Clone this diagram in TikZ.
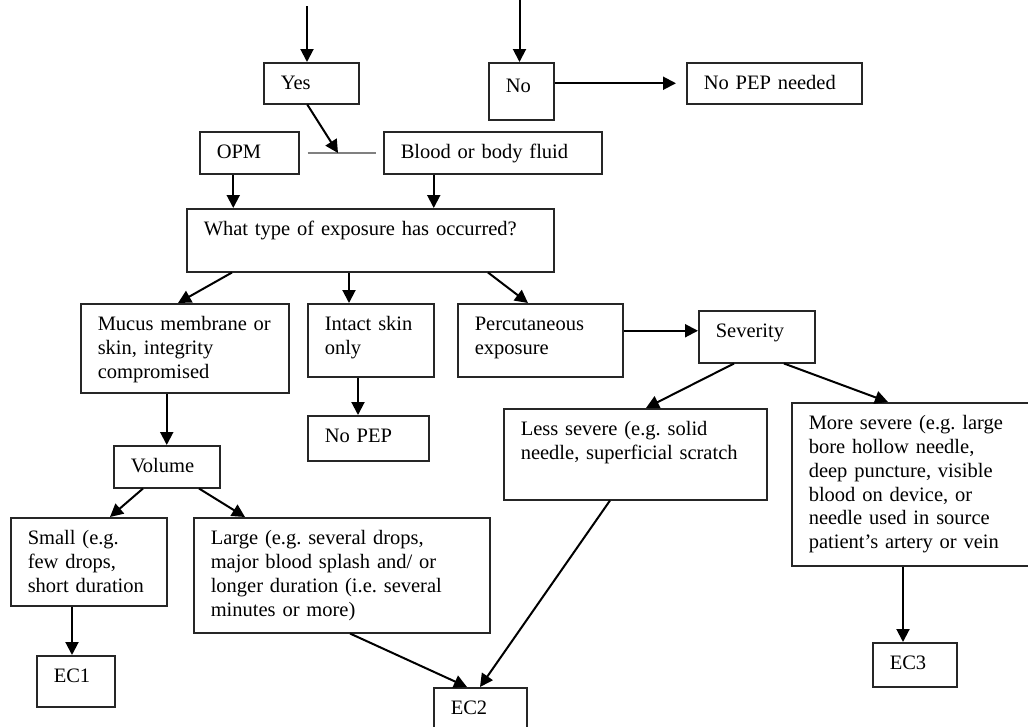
\documentclass[tikz,border=0pt]{standalone}
\usepackage{fontspec}
\setmainfont{Liberation Serif}
\frenchspacing
\usetikzlibrary{positioning, arrows.meta}

\begin{document}
\begin{tikzpicture}[
		x=1pt, y=-1pt,
		box/.style={draw=black!85, line width=1.5pt, anchor=north west, align=left,
			inner xsep=17pt, inner ysep=0pt, text height=27pt,
			font=\fontsize{20.5}{23.8}\selectfont},
		arrow/.style={-{Triangle[length=13pt, width=13pt]}, line width=2pt},
		link/.style={draw=black!50, line width=2pt},
		]
		\useasboundingbox (0,0) rectangle (1028,726);
		\clip (0,0) rectangle (1028,726);
		
		% Source answer (top)
		\node[box, text width=61pt, text depth=14pt] (yes) at (263,62) {Yes};
		\node[box, text width=31pt, text height=30pt, text depth=27pt] (no) at (488,62) {No};
		\node[box, text width=141pt, text depth=14pt] (nopepneeded) at (686,62) {No PEP needed};
		
		% Source material
		\node[box, text width=65pt, text depth=15pt] (opm) at (199,131) {OPM};
		\node[box, text width=184pt, text depth=15pt] (blood) at (383,131) {Blood or body fluid};
		
		% Type of exposure
		\node[box, text width=333pt, text depth=36pt] (exposure) at (186,208) {What type of exposure has occurred?};
		\node[box, text width=174pt, text depth=62pt] (mucus) at (80,303) {Mucus membrane or\\skin, integrity\\compromised};
		\node[box, text width=92pt, text depth=46pt] (intact) at (307,303) {Intact skin\\only};
		\node[box, text width=131pt, text depth=46pt] (percut) at (457,303) {Percutaneous\\exposure};
		\node[box, text width=82pt, text depth=25pt] (severity) at (698,310) {Severity};
		\node[box, text width=87pt, text depth=18pt] (nopep) at (307,415) {No PEP};
		
		% Volume and severity
		\node[box, text width=72pt, text depth=15pt] (volume) at (113,445) {Volume};
		\node[box, text width=229pt, text depth=64pt] (less) at (503,408) {Less severe (e.g. solid\\needle, superficial scratch};
		\node[box, text width=216pt, text depth=136pt] (more) at (791,402) {More severe (e.g. large\\bore hollow needle,\\deep puncture, visible\\blood on device, or\\needle used in source\\patient’s artery or vein};
		\node[box, text width=122pt, text depth=61pt] (small) at (10,517) {Small (e.g.\\few drops,\\short duration};
		\node[box, text width=262pt, text depth=88pt] (large) at (193,517) {Large (e.g. several drops,\\major blood splash and/ or\\longer duration (i.e. several\\minutes or more)};
		
		% Exposure codes (bottom)
		\node[box, text width=44pt, text depth=24pt] (ec1) at (36,655) {EC1};
		\node[box, text width=59pt, text depth=23pt] (ec2) at (433,687) {EC2};
		\node[box, text width=50pt, text depth=17pt] (ec3) at (872,642) {EC3};
		
		% Connectors
		\coordinate (intoyes) at (307,6);
		\coordinate (intono) at (519.5,-2);
		\coordinate (join) at (338,153);
		
		\draw[arrow] (intoyes) -- (intoyes |- yes.north);
		\draw[arrow] (intono) -- (intono |- no.north);
		\draw[arrow] (no.east |- nopepneeded.west) -- ([xshift=-10pt]nopepneeded.west);
		\draw[link] ([xshift=8pt]opm.east) -- ([xshift=-7pt]blood.west);
		\draw[arrow] ([xshift=-4pt]yes.south) -- (join);
		
		\draw[arrow] ([xshift=-16pt]opm.south) -- ([xshift=-16pt]opm.south |- exposure.north);
		\draw[arrow] ([xshift=-59pt]blood.south) -- ([xshift=-59pt]blood.south |- exposure.north);
		
		\draw[arrow] ([xshift=46pt]exposure.south west) -- ([xshift=98pt]mucus.north west);
		\draw[arrow] ([xshift=163pt]exposure.south west) -- ([xshift=163pt]exposure.south west |- intact.north);
		\draw[arrow] ([xshift=302pt]exposure.south west) -- ([xshift=71pt]percut.north west);
		\draw[arrow] ([yshift=9.5pt]percut.east) -- ([yshift=9.5pt]percut.east -| severity.west);
		
		\draw[arrow] ([xshift=36pt]severity.south west) -- ([xshift=143pt]less.north west);
		\draw[arrow] ([xshift=86pt]severity.south west) -- ([xshift=97pt]more.north west);
		\draw[arrow] (volume.north |- mucus.south) -- (volume.north);
		\draw[arrow] ([xshift=51pt]intact.south west) -- ([xshift=51pt]intact.south west |- nopep.north);
		
		\draw[arrow] ([xshift=30pt]volume.south west) -- ([xshift=100pt]small.north west);
		\draw[arrow] ([xshift=86pt]volume.south west) -- ([xshift=52pt]large.north west);
		\draw[arrow] ([xshift=62pt]small.south west) -- ([xshift=62pt]small.south west |- ec1.north);
		\draw[arrow] ([xshift=157pt]large.south west) -- ([xshift=34pt]ec2.north west);
		\draw[arrow] ([xshift=107pt]less.south west) -- ([xshift=47pt]ec2.north west);
		\draw[arrow] ([xshift=112pt]more.south west) -- ([xshift=112pt]more.south west |- ec3.north);
	\end{tikzpicture}
\end{document}
